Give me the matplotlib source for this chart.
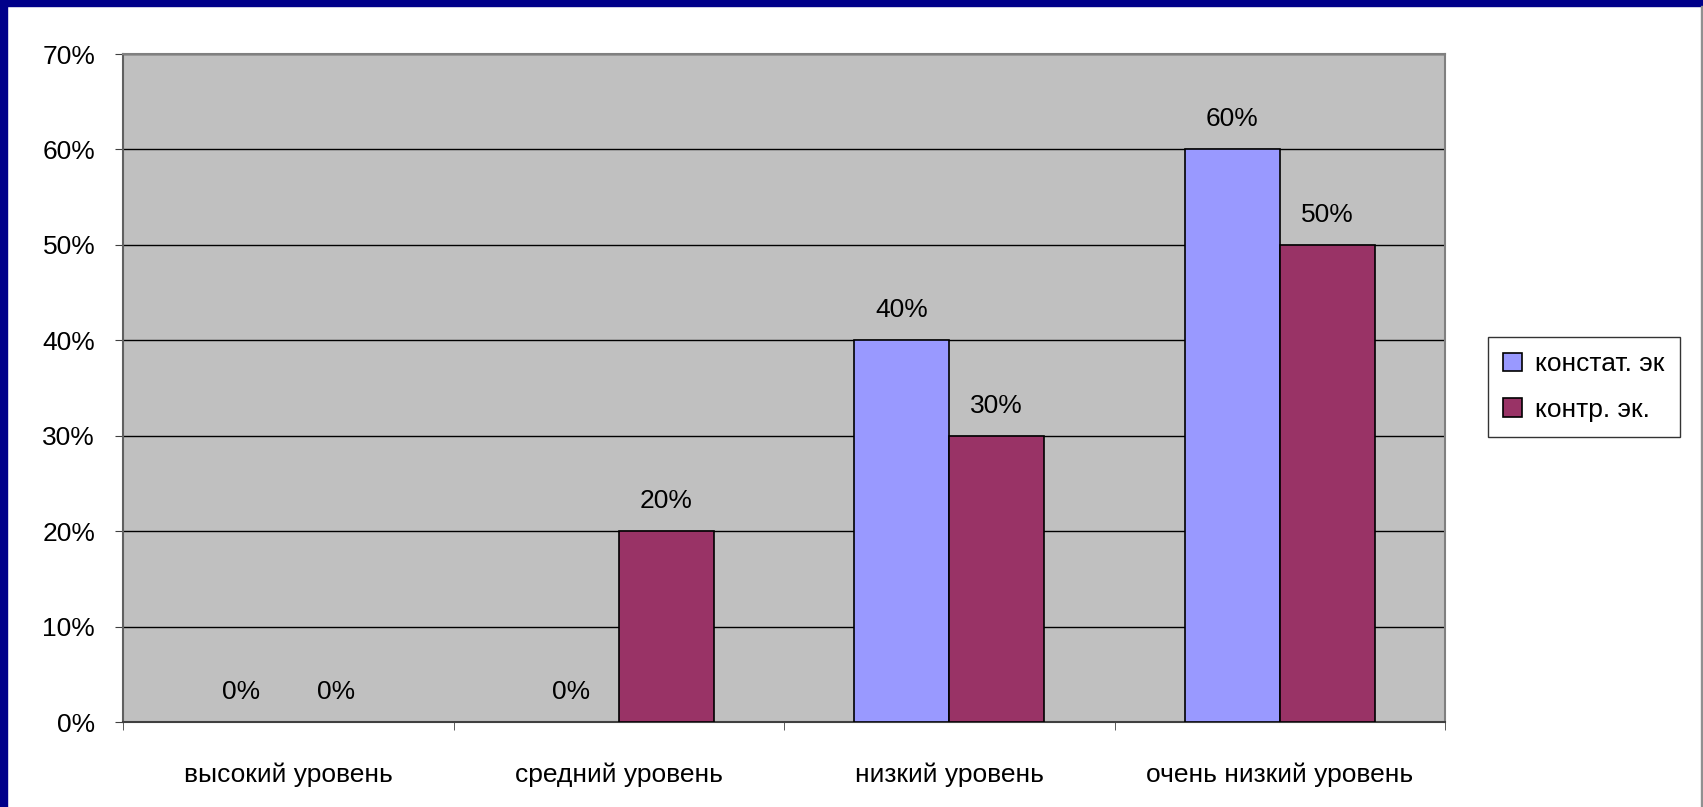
import matplotlib.pyplot as plt
import numpy as np
from matplotlib.patches import Rectangle, Patch

plt.rcParams['font.family'] = ['Liberation Sans', 'DejaVu Sans']

categories = ['высокий уровень', 'средний уровень', 'низкий уровень', 'очень низкий уровень']
series_names = ['констат. эк', 'контр. эк.']
konstat = [0, 0, 40, 60]
kontr = [0, 20, 30, 50]
yticks = [0, 10, 20, 30, 40, 50, 60, 70]
colors = ['#9999ff', '#993366']

fig = plt.figure(figsize=(17.03, 8.07), dpi=100)
fig.patch.set_facecolor('white')

# blue frame strips (left and top) like the slide background
fig.add_artist(Rectangle((0, 0), 7 / 1703, 1, transform=fig.transFigure, color='#00008a', zorder=0))
fig.add_artist(Rectangle((0, 1 - 6 / 807), 1, 6 / 807, transform=fig.transFigure, color='#00008a', zorder=0))
fig.add_artist(Rectangle((1 - 2 / 1703, 0), 2 / 1703, 1 - 6 / 807, transform=fig.transFigure, color='#909090', zorder=0))

ax = fig.add_axes([123 / 1703, 85 / 807, 1322 / 1703, 668 / 807])
ax.set_facecolor('#c0c0c0')

x = np.arange(len(categories))
w = 0.2875
b1 = ax.bar(x - w / 2, konstat, w, color=colors[0], edgecolor='black', linewidth=1.2, zorder=3)
b2 = ax.bar(x + w / 2, kontr, w, color=colors[1], edgecolor='black', linewidth=1.2, zorder=3)

# hide outlines on zero-height bars
for bars, vals in ((b1, konstat), (b2, kontr)):
    for r, v in zip(bars, vals):
        if v == 0:
            r.set_linewidth(0)
    ax.bar_label(bars, labels=[f'{v}%' for v in vals], padding=13, fontsize=19)

ax.set_xlim(-0.5, len(categories) - 0.5)
ax.set_ylim(0, 70)
ax.set_yticks(yticks)
ax.set_yticklabels([f'{v}%' for v in yticks], fontsize=19)
ax.yaxis.grid(True, color='black', linewidth=1)
ax.set_axisbelow(True)

ax.set_xticks(x)
ax.set_xticklabels(categories, fontsize=19)
ax.set_xticks(np.arange(len(categories) + 1) - 0.5, minor=True)
ax.tick_params(axis='x', which='major', length=0, pad=29)
ax.tick_params(axis='x', which='minor', length=6, color='#404040')
ax.tick_params(axis='y', length=6, pad=14, color='#404040')

for s in ('top', 'right'):
    ax.spines[s].set_color('#808080')
ax.spines['left'].set_color('#606060')
ax.spines['bottom'].set_color('#404040')
for s in ax.spines.values():
    s.set_linewidth(1.5)

handles = [Patch(facecolor=c, edgecolor='black', linewidth=1.2) for c in colors]
leg = fig.legend(handles, series_names, loc='center', bbox_to_anchor=(1584 / 1703, 1 - 387 / 807),
                 fontsize=19, frameon=True, fancybox=False, edgecolor='black', handlelength=0.7,
                 handleheight=0.7, handletextpad=0.5, labelspacing=0.8, borderpad=0.6)
leg.get_frame().set_linewidth(1)

fig.savefig('out.png', dpi=100)
